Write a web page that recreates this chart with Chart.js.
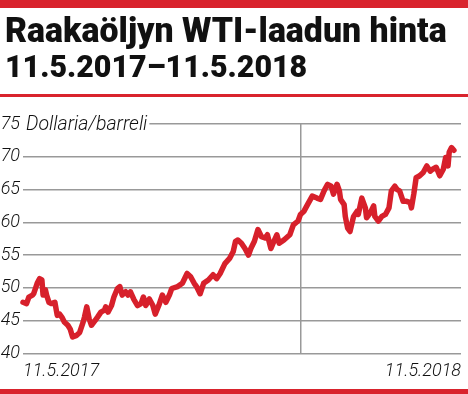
<!DOCTYPE html>
<html lang="fi">
<head>
<meta charset="UTF-8">
<title>Raakaöljyn WTI-laadun hinta</title>
<script src="https://cdn.jsdelivr.net/npm/chart.js"></script>
<style>
    html, body { margin: 0; padding: 0; background: #fff; }
    body { width: 468px; height: 394px; position: relative; overflow: hidden; font-family: Roboto, "Liberation Sans", sans-serif; }
    .bar { position: absolute; left: 0; width: 468px; background: #d9232d; }
    .title { position: absolute; left: 5px; font-weight: 900; color: #111; line-height: 1; white-space: nowrap; transform-origin: 0 0; z-index: 2; }
    #chartWrap { position: absolute; left: 0; top: 0; width: 468px; height: 394px; }
</style>
</head>
<body>
<div class="bar" style="top:0; height:8px;"></div>
<div class="title" id="t1" style="top:13px; font-size:35px;">Raakaöljyn WTI-laadun hinta</div>
<div class="title" id="t2" style="top:51px; font-size:31px;">11.5.2017–11.5.2018</div>
<div class="bar" style="top:94px; height:3px;"></div>
<div id="chartWrap"><canvas id="oilChart" width="468" height="394"></canvas></div>
<div class="bar" style="top:389px; height:5px;"></div>

<script>
// päivä (0 = 11.5.2017) ja hinta dollaria/barreli
const days = [0, 3, 5, 8, 9, 12, 14, 16, 17, 19, 20, 22, 24, 27, 29, 31, 33, 35, 38, 40,
    42, 45, 48, 51, 52, 54, 56, 58, 61, 63, 66, 69, 70, 72, 75, 77, 80, 82, 84, 87,
    89, 91, 94, 97, 100, 102, 104, 107, 110, 112, 115, 118, 121, 124, 126, 131, 135, 139, 142, 145,
    147, 150, 153, 157, 161, 164, 167, 171, 175, 178, 180, 182, 185, 188, 191, 193, 196, 199, 202, 205,
    207, 210, 213, 215, 217, 221, 226, 229, 233, 235, 238, 241, 245, 249, 252, 255, 258, 261, 263, 266,
    268, 269, 272, 273, 275, 277, 280, 283, 284, 287, 290, 291, 294, 297, 298, 301, 304, 307, 310, 312,
    315, 317, 319, 322, 325, 328, 329, 331, 333, 336, 339, 342, 345, 347, 350, 353, 356, 358, 360, 361,
    363, 365];
const prices = [47.8, 47.6, 48.6, 48.9, 49.1, 50.7, 51.4, 51.2, 48.9, 49.7, 48.9, 47.8, 47.6, 47.8, 45.8, 46.0, 45.5, 44.8, 44.3, 43.7,
    42.5, 42.7, 43.2, 44.8, 45.5, 47.1, 45.3, 44.3, 45.0, 45.5, 46.3, 46.6, 47.1, 46.3, 47.3, 48.6, 49.9, 50.2, 48.9, 49.4,
    48.9, 49.4, 48.2, 47.3, 47.6, 48.6, 47.3, 48.3, 47.3, 46.0, 47.3, 48.9, 47.8, 48.9, 49.9, 50.2, 50.7, 52.2, 51.7, 50.7,
    50.2, 49.1, 50.7, 51.2, 52.0, 51.4, 52.2, 53.7, 54.5, 55.5, 57.1, 57.3, 56.8, 56.0, 55.0, 56.0, 57.1, 58.9, 57.8, 57.6,
    58.1, 56.0, 57.3, 58.1, 56.8, 57.3, 58.1, 59.6, 60.2, 61.2, 61.7, 62.7, 64.0, 63.7, 63.5, 64.8, 65.8, 65.5, 64.3, 65.8,
    64.8, 63.5, 62.7, 60.9, 59.1, 58.6, 60.9, 61.7, 61.2, 63.7, 62.2, 60.7, 61.4, 62.5, 60.9, 60.2, 60.9, 61.2, 62.2, 64.8,
    65.5, 65.0, 64.8, 63.2, 63.2, 63.0, 62.2, 64.3, 66.8, 67.1, 67.6, 68.6, 67.8, 68.1, 68.4, 67.1, 68.1, 69.9, 68.6, 70.7,
    71.4, 71.0];
const yTicks = [40, 45, 50, 55, 60, 65, 70, 75];
const unitLabel = "Dollaria/barreli";
const startLabel = "11.5.2017";
const endLabel = "11.5.2018";
const yearStart = 235; // 1.1.2018

// otsikot kapeammiksi
function fitWidth(id, w) {
    const el = document.getElementById(id);
    el.style.transform = "scaleX(" + (w / el.scrollWidth) + ")";
}
fitWidth("t1", 442);
fitWidth("t2", 302);

const tickFont = { family: "Roboto, 'Liberation Sans'", size: 18, style: "italic", weight: "300" };

const unitPlugin = {
    id: "unitLabel",
    afterDraw(chart) {
        const ctx = chart.ctx;
        const y = chart.scales.y.getPixelForValue(75);
        ctx.save();
        ctx.font = "italic 300 19.5px Roboto, 'Liberation Sans'";
        const w = ctx.measureText(unitLabel).width;
        ctx.fillStyle = "#fff";
        ctx.fillRect(chart.chartArea.left - 1, y - 4, w + 6, 8);
        ctx.fillStyle = "#111";
        ctx.textBaseline = "middle";
        ctx.fillText(unitLabel, 26, y + 1);
        ctx.restore();
    }
};

new Chart(document.getElementById("oilChart"), {
    type: "line",
    data: {
        datasets: [{
            data: days.map((d, i) => ({ x: d, y: prices[i] })),
            borderColor: "#d7202b",
            borderWidth: 5.5,
            borderJoinStyle: "round",
            borderCapStyle: "round",
            pointRadius: 0,
            tension: 0,
            clip: false
        }]
    },
    options: {
        responsive: false,
        animation: false,
        layout: { padding: { top: 124, right: 5, bottom: 5, left: 0 } },
        plugins: { legend: { display: false }, tooltip: { enabled: false } },
        scales: {
            x: {
                type: "linear",
                min: 0,
                max: 371,
                afterBuildTicks(scale) {
                    scale.ticks = [{ value: 0 }, { value: yearStart }, { value: 371 }];
                },
                ticks: {
                    align: "inner",
                    padding: 7,
                    maxRotation: 0,
                    autoSkip: false,
                    color: "#111",
                    font: tickFont,
                    callback: (v) => v === 0 ? startLabel : (v === 371 ? endLabel : "")
                },
                grid: {
                    drawTicks: false,
                    lineWidth: 1.5,
                    color: (c) => c.tick && c.tick.value === yearStart ? "#999" : "rgba(0,0,0,0)"
                },
                border: { display: false }
            },
            y: {
                min: 40,
                max: 75,
                afterBuildTicks(scale) {
                    scale.ticks = yTicks.map(v => ({ value: v }));
                },
                afterFit(scale) { scale.width = 23; },
                ticks: { padding: 3, color: "#111", font: tickFont },
                grid: { drawTicks: false, lineWidth: 1.5, color: "#999" },
                border: { display: false }
            }
        }
    },
    plugins: [unitPlugin]
});
</script>
</body>
</html>
